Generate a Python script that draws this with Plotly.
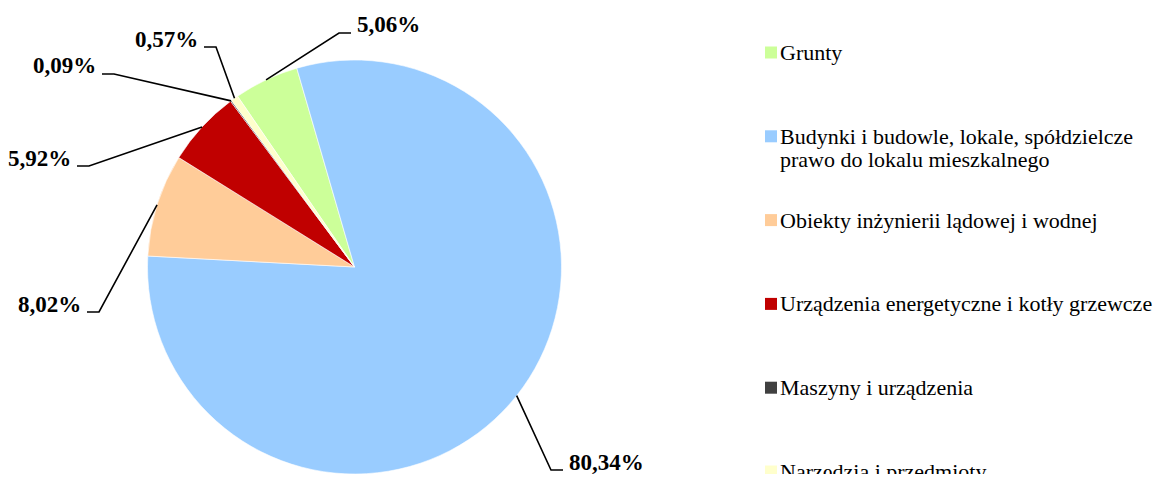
import math
import plotly.graph_objects as go

# ---- data ----
categories = [
    "Grunty",
    "Budynki i budowle, lokale, spółdzielcze<br>prawo do lokalu mieszkalnego",
    "Obiekty inżynierii lądowej i wodnej",
    "Urządzenia energetyczne i kotły grzewcze",
    "Maszyny i urządzenia",
    "Narzędzia i przedmioty",
]
values = [5.06, 80.34, 8.02, 5.92, 0.09, 0.57]
value_labels = ["5,06%", "80,34%", "8,02%", "5,92%", "0,09%", "0,57%"]
colors = ["#CCFF99", "#99CCFF", "#FFCC99", "#C00000", "#404040", "#FFFFCC"]

# ---- layout constants (page pixels) ----
PAGE_W, PAGE_H = 1166, 482
OFF = 8  # default page body margin (keep the page free of scrollbars)
W, H = PAGE_W - 2 * OFF, PAGE_H - 2 * OFF
CX, CY, R = 354.5, 267.0, 207.0
ROTATION = -34.4  # start angle of first slice (deg, clockwise from 12 o'clock)

# label placement: (text edge x, leader baseline y, side)
label_pos = [
    (355, 33, "right"),
    (567, 470, "right"),
    (83, 312, "left"),
    (73, 166, "left"),
    (98, 74, "left"),
    (200, 47, "left"),
]
LEG_X, LEG_Y0, LEG_DY, LEG_SQ, LEG_LINE = 765, 52.5, 83.8, 12, 23.5

LABEL_FONT = dict(family="Liberation Serif", size=23, color="#000000")
LEG_FONT = dict(family="Liberation Serif", size=22, color="#000000")


def px(x):
    return (x - OFF) / W


def py(y):
    return 1 - (y - OFF) / H


fig = go.Figure()
fig.add_trace(go.Pie(
    labels=categories,
    values=values,
    sort=False,
    direction="clockwise",
    rotation=ROTATION,
    marker=dict(colors=colors, line=dict(color="#FFFFFF", width=0.6)),
    textinfo="none",
    hoverinfo="label+percent",
    showlegend=False,
    domain=dict(x=[px(CX - R), px(CX + R)], y=[py(CY + R), py(CY - R)]),
))

shapes = []
annotations = []
total = sum(values)
angle = ROTATION
for v, lab, (tx, ly, side) in zip(values, value_labels, label_pos):
    span = 360 * v / total
    mid = math.radians(angle + span / 2)
    angle += span
    ax = CX + R * math.sin(mid)
    ay = CY - R * math.cos(mid)
    if side == "right":
        end_x = tx - 4
        elbow_x = end_x - 12
    else:
        end_x = tx + 4
        elbow_x = end_x + 12
    path = f"M {px(ax)} {py(ay)} L {px(elbow_x)} {py(ly)} L {px(end_x)} {py(ly)}"
    shapes.append(dict(type="path", path=path, xref="paper", yref="paper",
                       line=dict(color="#000000", width=1.6)))
    annotations.append(dict(
        text=f"<b>{lab}</b>", x=px(tx), y=py(ly - 8), xref="paper", yref="paper",
        xanchor="left" if side == "right" else "right", yanchor="middle",
        showarrow=False, font=LABEL_FONT))

# manual legend
for i, (cat, col) in enumerate(zip(categories, colors)):
    yc = LEG_Y0 + i * LEG_DY
    shapes.append(dict(type="rect", xref="paper", yref="paper",
                       x0=px(LEG_X), x1=px(LEG_X + LEG_SQ),
                       y0=py(yc + LEG_SQ / 2), y1=py(yc - LEG_SQ / 2),
                       fillcolor=col, line=dict(width=0)))
    for j, line in enumerate(cat.split("<br>")):
        annotations.append(dict(
            text=line, x=px(LEG_X + LEG_SQ + 1), y=py(yc + j * LEG_LINE),
            xref="paper", yref="paper", xanchor="left", yanchor="middle",
            showarrow=False, font=LEG_FONT))

fig.update_layout(
    width=W, height=H,
    margin=dict(l=0, r=0, t=0, b=0),
    paper_bgcolor="#FFFFFF", plot_bgcolor="#FFFFFF",
    shapes=shapes, annotations=annotations,
)

fig.write_html("out.html")
